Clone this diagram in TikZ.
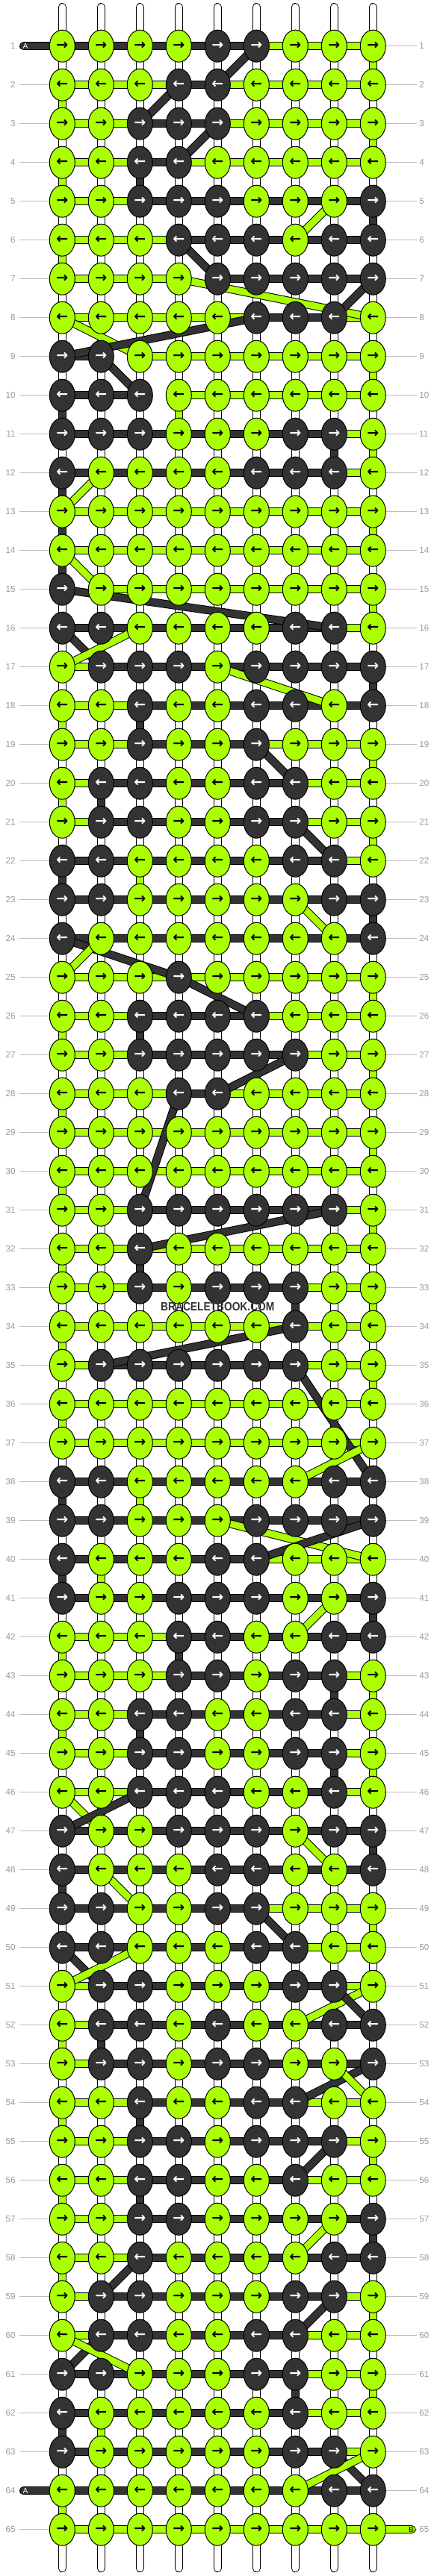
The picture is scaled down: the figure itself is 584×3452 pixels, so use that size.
\documentclass[tikz,border=0pt]{standalone}
\usepackage{fontspec}
\setmainfont{Liberation Sans}
\newfontfamily\arrowfont{DejaVu Sans}
\usetikzlibrary{shapes.geometric}
\definecolor{cG}{HTML}{AAFF00}
\definecolor{cD}{HTML}{333333}
\definecolor{tG}{HTML}{000000}
\definecolor{tD}{HTML}{FFFFFF}
\definecolor{labc}{HTML}{9A9A9A}
\definecolor{labl}{HTML}{BDBDBD}
\pgfdeclarelayer{back}
\pgfdeclarelayer{bg}
\pgfsetlayers{back,bg,main}
\tikzset{
  knot/.style={ellipse, draw=black, line width=0.5pt, minimum width=17pt, minimum height=21.5pt, inner sep=0pt,
    font=\arrowfont\bfseries\fontsize{9.5}{9.5}\selectfont},
  strand/.style={draw=black, line width=0.5pt, double distance=4.5pt},
  tube/.style={strand, double=white},
  lab/.style={text=labc, font=\fontsize{5.8}{6}\selectfont, inner sep=0pt},
  labline/.style={draw=labl, line width=0.5pt},
  leadtxt/.style={font=\fontsize{5.1}{5.1}\selectfont, inner sep=0pt},
  wmark/.style={text=cD, font=\bfseries\fontsize{8}{8}\selectfont, xscale=0.86, inner sep=0pt}
}
\def\rowdata{%
1/GGGGDDGGG/DDDDDGGG,%
2/GGGDDGGGG/GGGDGGGG,%
3/GGDDDGGGG/GGDDGGGG,%
4/GGDDGGGGG/GGDGGGGG,%
5/GGDDDGGGD/GGDDDDDD,%
6/GGGDDDGDD/GGGDDDDD,%
7/GGGGDDDDD/GGGNDDDD,%
8/GGGGGDDDG/GGGGGDDG,%
9/DDGGGGGGG/DNGGGGGG,%
10/DDDGGGGGG/DDNGGGGG,%
11/DDDGGGDDG/DDDDDDDG,%
12/DGGGGDDDG/DDDDDDDG,%
13/GGGGGGGGG/GGGGGGGG,%
14/GGGGGGGGG/GGGGGGGG,%
15/DGGGGGGGG/NGGGGGGG,%
16/DDGGGGDDG/DDDDDDDG,%
17/GDDDGDDDD/GDDDDDDD,%
18/GGDGGDDGD/GGDDDDDD,%
19/GGDGGDGGG/GGDDDGGG,%
20/GDDGGDDGG/GDDDDDGG,%
21/GDDGGDDGG/GDDDDDGG,%
22/DDGGGGDDG/DDDDDDDG,%
23/DDGGGGGDD/DDDDDDDD,%
24/DGGGGGGGD/DDDDDDDD,%
25/GGGDGGGGG/GGGGGGGG,%
26/GGDDDDGGG/GGDDDGGG,%
27/GGDDDDDGG/GGDDDDGG,%
28/GGGDDGGGG/GGGDGGGG,%
29/GGGGGGGGG/GGGGGGGG,%
30/GGGGGGGGG/GGGGGGGG,%
31/GGDDDDDDG/GGDDDDDG,%
32/GGDGGGGGG/GGGGGGGG,%
33/GGDGDDDGG/GGDDDDGG,%
34/GGGGGGDGG/GGGGGGGG,%
35/GDDDDDDGG/GDDDDDGG,%
36/GGGGGGGGG/GGGGGGGG,%
37/GGGGGGGGG/GGGGGGGG,%
38/DDGGGGGDD/DDDDDDDD,%
39/DDGGGDDDD/DDDDDDDD,%
40/DGGGDDGGG/DDDDDGGG,%
41/DGGDDDGGD/DDDDDDDD,%
42/GGGDDGGDD/GGGDDDDD,%
43/GGGDDGDDG/GGGDDDDG,%
44/GGDDGGDDG/GGDDDDDG,%
45/GGDDGGDDG/GGDDDDDG,%
46/GGDDDGGDG/GGDDDDDG,%
47/DGGDDDGDD/DDDDDDDD,%
48/DGGGDDGGD/DDDDDDDD,%
49/DDGGDDGGG/DDDDDGGG,%
50/DDGGGDDGG/DDDDDDGG,%
51/GDDGGGDDG/GDDDDDDG,%
52/GDDGDGGDD/GDDDDDDD,%
53/GDDGDDGGD/GDDDDDDD,%
54/GGDGGDDGG/GGDDDDGG,%
55/GGDDGDDDG/GGDDDDDG,%
56/GGDDGGDGG/GGDDDDGG,%
57/GGDDGGGGD/GGDDDDDD,%
58/GGDGGGGDD/GGDDDDDD,%
59/GDDGGGDDG/GDDDDDDG,%
60/GDDGGDDGG/GDDDDDGG,%
61/DDGGGDDGG/DDDDDDGG,%
62/DGGGGGDGG/DDDDDDGG,%
63/DGGGGGDDG/DDDDDDDG,%
64/GGGGGGGDD/DDDDDDDD,%
65/GGGGGGGGG/GGGGGGGG}
\def\vertdata{1/9/G,2/1/G,3/9/G,4/1/G,4/3/D,5/9/D,6/1/G,9/9/G,10/1/D,10/4/G,11/8/D,11/9/G,12/1/D,13/1/D,13/9/G,14/1/D,15/9/G,17/9/D,18/1/G,18/3/D,19/9/G,20/1/G,20/2/D,21/9/G,22/1/D,22/3/G,23/9/D,25/9/G,26/1/G,26/3/D,27/9/G,28/1/G,29/9/G,30/1/G,31/9/G,32/1/G,32/3/D,33/7/D,33/9/G,34/1/G,35/9/G,36/1/G,38/1/D,38/3/G,40/1/D,40/2/G,41/9/D,42/1/G,42/4/D,43/8/D,43/9/G,44/1/G,44/3/D,45/8/D,45/9/G,47/9/D,48/1/D,49/9/G,52/1/G,52/2/D,54/1/G,54/3/D,55/9/G,56/1/G,56/3/D,57/9/D,58/1/G,59/9/G,61/7/D,61/9/G,62/1/D,62/2/G,64/1/G}
\def\diagdata{1/6/2/5/D,2/4/3/3/D,3/5/4/4/D,5/8/6/7/G,6/4/7/5/D,7/4/8/9/G,7/9/8/8/D,8/1/9/3/G,8/6/9/1/D,9/2/10/3/D,12/2/13/1/G,14/1/15/2/G,15/1/16/8/D,16/1/17/2/D,16/3/17/1/G,17/5/18/8/G,19/6/20/7/D,21/7/22/8/D,23/7/24/8/G,24/1/25/4/D,25/4/26/6/D,24/2/25/1/G,27/7/28/5/D,28/4/31/3/D,31/8/32/3/D,34/7/35/2/D,35/7/38/9/D,37/9/38/7/G,39/5/40/9/G,39/9/40/6/D,41/8/42/7/G,46/1/47/2/G,46/3/47/1/D,47/7/48/8/G,48/2/49/3/G,49/6/50/7/D,50/1/51/2/D,50/3/51/1/G,51/9/52/7/G,51/8/52/9/D,53/9/54/7/D,53/8/54/9/G,55/8/56/7/D,57/8/58/7/G,58/3/59/2/D,59/8/60/7/D,60/2/61/1/D,60/1/61/3/G,63/8/64/9/D,63/9/64/7/G}
\def\pknot#1#2{\node[knot,fill=c#2,text=t#2] (k-\r-#1) at ({83.3+(#1-1)*52},{61.7+(\r-1)*52}) {\ifodd\r\relax →\else ←\fi};}
\def\doknots#1#2#3#4#5#6#7#8#9{\pknot1{#1}\pknot2{#2}\pknot3{#3}\pknot4{#4}\pknot5{#5}\pknot6{#6}\pknot7{#7}\pknot8{#8}\pknot9{#9}}
\def\pseg#1#2#3{\if N#3\else\draw[strand,double=c#3] (k-\r-#1.center) -- (k-\r-#2.center);\fi}
\def\dosegs#1#2#3#4#5#6#7#8{\pseg12{#1}\pseg23{#2}\pseg34{#3}\pseg45{#4}\pseg56{#5}\pseg67{#6}\pseg78{#7}\pseg89{#8}}
\begin{document}
\begin{tikzpicture}[x=0.5pt,y=-0.5pt]
\useasboundingbox (0,0) rectangle (584,3452);
\begin{pgfonlayer}{back}
\fill[white] (0,0) rectangle (584,3452);
\end{pgfonlayer}
% knots and row labels
\foreach \r/\k/\s in \rowdata {
  \expandafter\doknots\k
  \node[lab,anchor=east] (L-\r) at (21,{61.7+(\r-1)*52}) {\r};
  \node[lab,anchor=west] (R-\r) at (561,{61.7+(\r-1)*52}) {\r};
}
% string ends
\foreach \c in {1,...,9} {
  \coordinate (t-\c) at ({83.3+(\c-1)*52},9.5);
  \coordinate (b-\c) at ({83.3+(\c-1)*52},3441.5);
}
\coordinate (A1) at (31.5,61.7);
\coordinate (A64) at (31.5,{61.7+63*52});
\coordinate (B65) at (551.2,{61.7+64*52});
\node[leadtxt,text=white] (At1) at (34,61.7) {A};
\node[leadtxt,text=white] (At64) at (34,{61.7+63*52}) {A};
\node[leadtxt,text=black] (Bt65) at (550.5,{61.7+64*52}) {B};
\node[wmark] (wm) at (291.3,1751) {BRACELETBOOK.COM};
\begin{pgfonlayer}{bg}
  \foreach \r/\k/\s in \rowdata {
    \draw[labline] ([xshift=2.5pt]L-\r.east) -- (k-\r-1.west);
    \draw[labline] (k-\r-9.east) -- ([xshift=-1.5pt]R-\r.west);
  }
  \foreach \c in {1,...,9} {
    \draw[tube,line cap=round] (t-\c) -- (k-1-\c.center);
    \draw[tube,line cap=round] (b-\c) -- (k-65-\c.center);
  }
  \foreach \ra in {1,...,64} {
    \pgfmathtruncatemacro\rb{\ra+1}
    \foreach \ca in {1,...,9} {
      \draw[tube] (k-\ra-\ca.center) -- (k-\rb-\ca.center);
    }
  }
  \foreach \ra/\ca/\cl in \vertdata {
    \pgfmathtruncatemacro\rb{\ra+1}
    \draw[strand,double=c\cl] (k-\ra-\ca.center) -- (k-\rb-\ca.center);
  }
  \foreach \r/\k/\s in \rowdata {
    \expandafter\dosegs\s
  }
  \foreach \ra/\ca/\rb/\cb/\cl in \diagdata {
    \draw[strand,double=c\cl] (k-\ra-\ca.center) -- (k-\rb-\cb.center);
  }
  \draw[strand,double=cD,line cap=round] (A1) -- (k-1-1.center);
  \draw[strand,double=cD,line cap=round] (A64) -- (k-64-1.center);
  \draw[strand,double=cG,line cap=round] (B65) -- (k-65-9.center);
\end{pgfonlayer}
\end{tikzpicture}
\end{document}
